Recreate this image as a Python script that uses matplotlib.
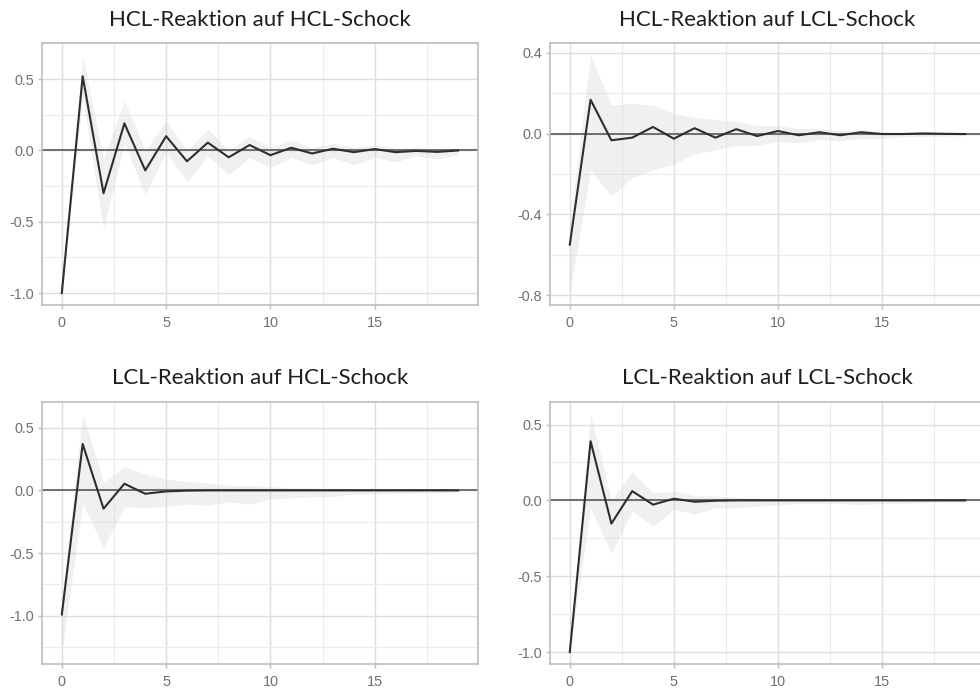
import numpy as np
import matplotlib
matplotlib.use("Agg")
import matplotlib.pyplot as plt
from matplotlib.ticker import MultipleLocator

steps = list(range(20))

titles = ["HCL-Reaktion auf HCL-Schock", "HCL-Reaktion auf LCL-Schock",
          "LCL-Reaktion auf HCL-Schock", "LCL-Reaktion auf LCL-Schock"]

# impulse responses
hcl_hcl = [-1.0, 0.52, -0.30, 0.19, -0.14, 0.10, -0.076, 0.055, -0.048, 0.038,
           -0.033, 0.019, -0.021, 0.012, -0.012, 0.01, -0.012, -0.003, -0.01, 0.0]
hcl_hcl_lo = [-1.0, 0.37, -0.55, 0.05, -0.31, -0.01, -0.22, -0.04, -0.17, -0.05,
              -0.12, -0.05, -0.10, -0.05, -0.10, -0.05, -0.08, -0.04, -0.06, -0.03]
hcl_hcl_hi = [-0.96, 0.67, -0.06, 0.35, 0.0, 0.21, 0.0, 0.15, 0.0, 0.10,
              0.02, 0.07, 0.02, 0.05, 0.02, 0.04, 0.015, 0.02, 0.01, 0.015]

hcl_lcl = [-0.55, 0.168, -0.033, -0.02, 0.033, -0.025, 0.027, -0.02, 0.022, -0.012,
           0.013, -0.008, 0.007, -0.008, 0.007, -0.002, -0.002, 0.001, -0.001, -0.002]
hcl_lcl_lo = [-0.79, -0.18, -0.31, -0.22, -0.18, -0.15, -0.10, -0.08, -0.06, -0.06,
              -0.04, -0.045, -0.03, -0.035, -0.025, -0.025, -0.015, -0.015, -0.012, -0.01]
hcl_lcl_hi = [-0.45, 0.39, 0.14, 0.15, 0.14, 0.10, 0.08, 0.07, 0.06, 0.04,
              0.04, 0.025, 0.025, 0.015, 0.018, 0.01, 0.008, 0.006, 0.005, 0.004]

lcl_hcl = [-0.99, 0.37, -0.146, 0.053, -0.027, -0.008, -0.002, 0.0, 0.0, 0.0,
           0.0, 0.0, 0.0, 0.0, 0.0, 0.0, 0.0, 0.0, 0.0, 0.0]
lcl_hcl_lo = [-1.29, -0.10, -0.46, -0.13, -0.14, -0.13, -0.11, -0.12, -0.09, -0.11,
              -0.07, -0.06, -0.05, -0.05, -0.03, -0.03, -0.025, -0.02, -0.02, -0.015]
lcl_hcl_hi = [-0.90, 0.61, 0.07, 0.19, 0.13, 0.09, 0.07, 0.06, 0.04, 0.04,
              0.03, 0.02, 0.02, 0.01, 0.01, 0.008, 0.005, 0.005, 0.003, 0.002]

lcl_lcl = [-1.0, 0.39, -0.153, 0.061, -0.028, 0.011, -0.009, -0.002, 0.0, 0.0,
           0.0, 0.0, 0.0, 0.0, 0.0, 0.0, 0.0, 0.0, 0.0, 0.0]
lcl_lcl_lo = [-1.0, -0.05, -0.35, -0.07, -0.17, -0.06, -0.09, -0.05, -0.05, -0.04,
              -0.03, -0.02, -0.02, -0.02, -0.03, -0.02, -0.02, -0.015, -0.01, -0.01]
lcl_lcl_hi = [-0.97, 0.57, 0.0, 0.19, 0.05, 0.06, 0.03, 0.03, 0.02, 0.015,
              0.01, 0.01, 0.008, 0.005, 0.005, 0.004, 0.003, 0.003, 0.002, 0.002]

panels = [
    (hcl_hcl, hcl_hcl_lo, hcl_hcl_hi, 0.5),
    (hcl_lcl, hcl_lcl_lo, hcl_lcl_hi, 0.4),
    (lcl_hcl, lcl_hcl_lo, lcl_hcl_hi, 0.5),
    (lcl_lcl, lcl_lcl_lo, lcl_lcl_hi, 0.5),
]

W, H = 980, 689
fig = plt.figure(figsize=(W / 100, H / 100), dpi=100)

# pixel boxes: left, top, right, bottom (right panels run off the edge)
boxes = [(42, 43, 478, 305), (550, 43, 985, 305),
         (42, 402, 478, 664), (550, 402, 985, 664)]
title_y = [20, 20, 378, 378]

for i, (resp, lo, hi, step) in enumerate(panels):
    l, t, r, b = boxes[i]
    ax = fig.add_axes([l / W, 1 - b / H, (r - l) / W, (b - t) / H])

    ymin = min(min(lo), min(resp))
    ymax = max(max(hi), max(resp))
    pad = (ymax - ymin) * 0.05
    ax.set_ylim(ymin - pad, ymax + pad)
    ax.set_xlim(-0.95, 19.95)

    ax.xaxis.set_major_locator(MultipleLocator(5))
    ax.xaxis.set_minor_locator(MultipleLocator(2.5))
    ax.yaxis.set_major_locator(MultipleLocator(step))
    ax.yaxis.set_minor_locator(MultipleLocator(step / 2))
    ax.grid(which="major", color="#dedede", linewidth=1.0)
    ax.grid(which="minor", color="#ececec", linewidth=0.8)
    ax.set_axisbelow(True)

    ax.fill_between(steps, lo, hi, color="#cfcfcf", alpha=0.3, linewidth=0)
    ax.axhline(0, color="#6e6e6e", linewidth=1.4)
    ax.plot(steps, resp, color="#2e2e2e", linewidth=1.5)

    for s in ax.spines.values():
        s.set_color("#bdbdbd")
        s.set_linewidth(1.2)
    if r > W:
        ax.spines["right"].set_visible(False)

    ax.tick_params(which="major", colors="#bdbdbd", length=3, width=1,
                   labelcolor="#707070", labelsize=10.4)
    ax.tick_params(axis="x", which="major", pad=5)
    ax.tick_params(axis="y", which="major", pad=2.5)
    ax.tick_params(which="minor", length=0)
    ax.yaxis.set_major_formatter(plt.FuncFormatter(lambda v, p: f"{v:.1f}"))
    for lab in ax.get_xticklabels() + ax.get_yticklabels():
        lab.set_family("Liberation Sans")

    cx = (l + min(r, 985)) / 2
    fig.text(cx / W, 1 - title_y[i] / H, titles[i], ha="center", va="center",
             fontsize=16, color="#1e1e1e", family="Lato")

fig.savefig("out.png", dpi=100, facecolor="white")
